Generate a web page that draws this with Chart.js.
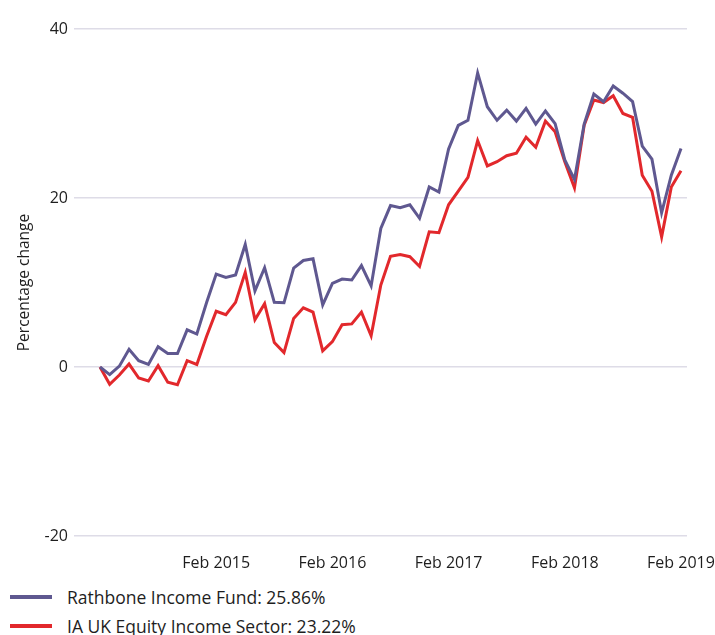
<!DOCTYPE html>
<html>
<head>
<meta charset="utf-8">
<script src="https://cdn.jsdelivr.net/npm/chart.js@4"></script>
<style>
  body { margin: 0; background: #fff; font-family: "Open Sans", sans-serif; }
  #wrap { position: relative; width: 715px; height: 580px; }
  #legend { margin: 2px 0 0 0; padding: 0; list-style: none; }
  #legend li { display: flex; align-items: center; height: 29px; color: #1e1e1e; font-size: 17.5px; }
  #legend .swatch { width: 42px; height: 4px; margin: 0 15px 0 10px; }
</style>
</head>
<body>
<div id="wrap"><canvas id="perfChart"></canvas></div>
<ul id="legend"></ul>
<script>
const months = [
  'Feb 2014','Mar 2014','Apr 2014','May 2014','Jun 2014','Jul 2014','Aug 2014','Sep 2014','Oct 2014','Nov 2014','Dec 2014','Jan 2015',
  'Feb 2015','Mar 2015','Apr 2015','May 2015','Jun 2015','Jul 2015','Aug 2015','Sep 2015','Oct 2015','Nov 2015','Dec 2015','Jan 2016',
  'Feb 2016','Mar 2016','Apr 2016','May 2016','Jun 2016','Jul 2016','Aug 2016','Sep 2016','Oct 2016','Nov 2016','Dec 2016','Jan 2017',
  'Feb 2017','Mar 2017','Apr 2017','May 2017','Jun 2017','Jul 2017','Aug 2017','Sep 2017','Oct 2017','Nov 2017','Dec 2017','Jan 2018',
  'Feb 2018','Mar 2018','Apr 2018','May 2018','Jun 2018','Jul 2018','Aug 2018','Sep 2018','Oct 2018','Nov 2018','Dec 2018','Jan 2019',
  'Feb 2019'
];

const rathboneFund = [
  0, -0.9, 0.1, 2.1, 0.75, 0.3, 2.4, 1.6, 1.6, 4.4, 3.9, 7.6,
  11.0, 10.6, 10.9, 14.5, 9.0, 11.75, 7.65, 7.6, 11.7, 12.6, 12.8, 7.35,
  9.9, 10.4, 10.3, 12.0, 9.6, 16.4, 19.1, 18.85, 19.2, 17.6, 21.3, 20.7,
  25.8, 28.6, 29.2, 34.8, 30.8, 29.2, 30.4, 29.1, 30.6, 28.75, 30.3, 28.8,
  24.5, 22.2, 28.75, 32.3, 31.4, 33.25, 32.4, 31.4, 26.15, 24.6, 18.25, 22.7,
  25.86
];

const iaSector = [
  0, -2.05, -0.95, 0.35, -1.3, -1.65, 0.15, -1.8, -2.1, 0.75, 0.3, 3.6,
  6.6, 6.2, 7.65, 11.2, 5.6, 7.5, 2.9, 1.7, 5.75, 7.0, 6.5, 1.9,
  3.0, 5.0, 5.1, 6.5, 3.7, 9.7, 13.1, 13.3, 13.05, 11.9, 16.0, 15.9,
  19.2, 20.8, 22.45, 26.8, 23.8, 24.3, 25.0, 25.3, 27.2, 26.0, 29.1, 27.85,
  24.3, 21.2, 28.6, 31.6, 31.3, 32.1, 30.0, 29.55, 22.7, 20.8, 15.4, 21.3,
  23.22
];

const seriesNames = ['Rathbone Income Fund: 25.86%', 'IA UK Equity Income Sector: 23.22%'];
const xTickMonths = ['Feb 2015', 'Feb 2016', 'Feb 2017', 'Feb 2018', 'Feb 2019'];
const yTicks = [-20, 0, 20, 40];

const purple = '#5f5890';
const red = '#e2282c';
const textColor = '#1e1e1e';
const fontFamily = '"Open Sans", sans-serif';

function toPoints(values) {
  return values.map((v, i) => ({x: i, y: v}));
}

const canvas = document.getElementById('perfChart');
const chart = new Chart(canvas.getContext('2d'), {
  type: 'line',
  data: {
    datasets: [
      {label: seriesNames[0], data: toPoints(rathboneFund), borderColor: purple, borderWidth: 3, pointRadius: 0, tension: 0},
      {label: seriesNames[1], data: toPoints(iaSector), borderColor: red, borderWidth: 3, pointRadius: 0, tension: 0}
    ]
  },
  options: {
    responsive: true,
    maintainAspectRatio: false,
    animation: false,
    layout: {padding: {top: 29, right: 28, bottom: 0, left: 0}},
    plugins: {
      legend: {display: false},
      tooltip: {enabled: false}
    },
    scales: {
      x: {
        type: 'linear',
        min: -2.685,
        max: 60.62,
        border: {display: false},
        grid: {display: false},
        afterBuildTicks: (scale) => {
          scale.ticks = xTickMonths.map(m => ({value: months.indexOf(m)}));
        },
        afterFit: (scale) => {
          scale.height = 44;
          // last label may hang past the plot, like in the original
          scale.paddingLeft = 0;
          scale.paddingRight = 0;
        },
        ticks: {
          autoSkip: false,
          maxRotation: 0,
          padding: 10,
          color: textColor,
          font: {family: fontFamily, size: 16},
          callback: (value) => months[value]
        }
      },
      y: {
        min: -20,
        max: 40,
        border: {display: false},
        grid: {color: '#dedce7', lineWidth: 1.5, drawTicks: false},
        afterBuildTicks: (scale) => {
          scale.ticks = yTicks.map(v => ({value: v}));
        },
        afterFit: (scale) => { scale.width = 74; },
        ticks: {
          padding: 6,
          color: textColor,
          font: {family: fontFamily, size: 16}
        },
        title: {
          display: true,
          text: 'Percentage change',
          color: textColor,
          padding: {top: 15, bottom: 0},
          font: {family: fontFamily, size: 15.5}
        }
      }
    }
  }
});

// html legend, one item per row like the reference
const legendList = document.getElementById('legend');
chart.data.datasets.forEach(ds => {
  const li = document.createElement('li');
  const swatch = document.createElement('span');
  swatch.className = 'swatch';
  swatch.style.background = ds.borderColor;
  li.appendChild(swatch);
  li.appendChild(document.createTextNode(ds.label));
  legendList.appendChild(li);
});
</script>
</body>
</html>
